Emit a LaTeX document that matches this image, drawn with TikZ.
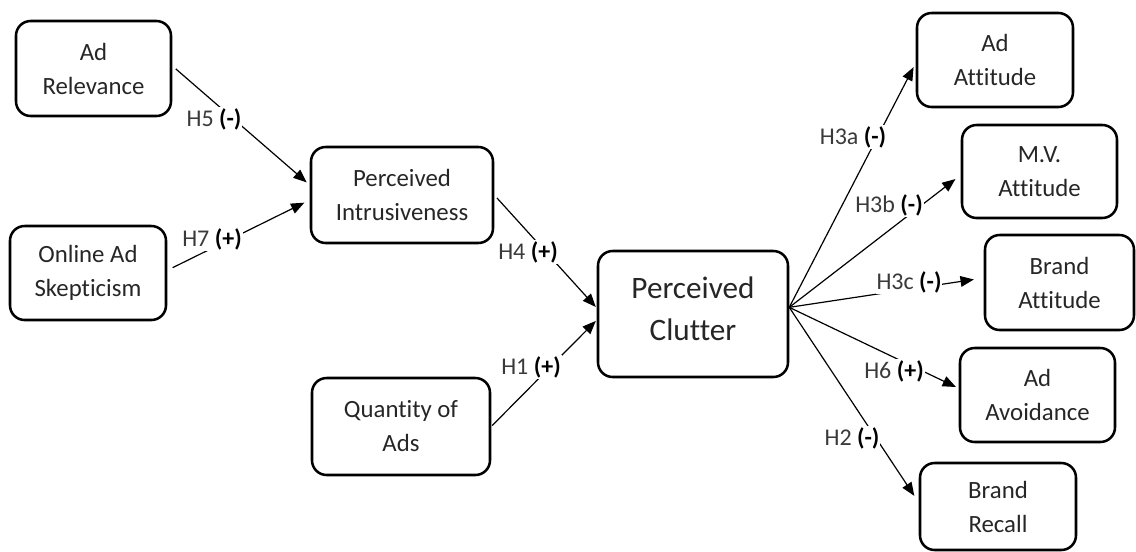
\documentclass[tikz,border=0pt]{standalone}
\usepackage{fontspec}
\setmainfont{Carlito}[Ligatures=NoCommon]
\usetikzlibrary{arrows.meta}
\definecolor{txt}{HTML}{262626}
\definecolor{lbl}{HTML}{3A3A3A}
\tikzset{
  box/.style={draw=black, line width=1.9pt, rounded corners=11pt, align=center,
    text=txt, font=\fontsize{18.6}{25.5}\selectfont, inner sep=0pt},
  bigbox/.style={draw=black, line width=1.9pt, rounded corners=11pt, inner sep=0pt},
  bigtext/.style={align=center, text=txt, font=\fontsize{23.4}{31.5}\selectfont, inner sep=0pt},
  arr/.style={draw=black, line width=0.9pt, -{Triangle[length=10pt,width=8pt]}},
  lab/.style={fill=white, inner sep=0.6pt, text=lbl, font=\fontsize{18}{21}\selectfont},
}
\begin{document}
\begin{tikzpicture}[x=0.75pt, y=-0.75pt]
\useasboundingbox (0,0) rectangle (1136,551);
% boxes (center, width, height in px)
\node[box, minimum width=155*0.75pt, minimum height=95*0.75pt] (adrel) at (93.5,68.5) {Ad\\Relevance};
\node[box, minimum width=156*0.75pt, minimum height=94*0.75pt] (skep) at (88,273) {Online Ad\\Skepticism};
\node[box, minimum width=182*0.75pt, minimum height=96*0.75pt] (intr) at (402,195) {Perceived\\Intrusiveness};
\node[box, minimum width=178*0.75pt, minimum height=97*0.75pt] (qty) at (401,426.5) {Quantity of\\Ads};
\node[bigbox, minimum width=190*0.75pt, minimum height=126*0.75pt] (clut) at (693,314) {};
\node[bigtext] (cluttext) at (693,309) {Perceived\\Clutter};
\node[box, minimum width=156*0.75pt, minimum height=94*0.75pt] (adatt) at (995,60) {Ad\\Attitude};
\node[box, minimum width=155*0.75pt, minimum height=93*0.75pt] (mvatt) at (1039.5,171.5) {M.V.\\Attitude};
\node[box, minimum width=149*0.75pt, minimum height=95*0.75pt] (bratt) at (1059.5,282.5) {Brand\\Attitude};
\node[box, minimum width=155*0.75pt, minimum height=94*0.75pt] (avoid) at (1037.5,395) {Ad\\Avoidance};
\node[box, minimum width=156*0.75pt, minimum height=87*0.75pt] (recall) at (998,506.5) {Brand\\Recall};
% connectors
\draw[arr, shorten <=3.5pt, shorten >=3pt] ([yshift=2pt]adrel.east) -- ([yshift=7.5pt]intr.west);
\draw[arr, shorten <=4.5pt, shorten >=4.5pt] ([yshift=2pt]skep.east) -- ([yshift=-3.75pt]intr.west);
\draw[arr, shorten <=3pt, shorten >=1pt] (intr.east) -- ([yshift=4.5pt]clut.west);
\draw[arr, shorten <=1pt, shorten >=1pt] (qty.east) -- ([yshift=-4.5pt]clut.west);
\coordinate (cs) at ([yshift=5pt]clut.east);
\draw[arr, shorten >=3.5pt] (cs) -- ([yshift=-2.25pt]adatt.west);
\draw[arr, shorten >=5pt] (cs) -- ([yshift=-2.6pt]mvatt.west);
\draw[arr, shorten >=7.5pt] (cs) -- ([yshift=3.4pt]bratt.west);
\draw[arr, shorten >=2.3pt] (cs) -- ([yshift=5pt]avoid.west);
\draw[arr, shorten >=6pt] (cs) -- ([yshift=3pt]recall.west);
% labels
\node[lab] (l5) at (214,119) {H5 \textbf{\color{black}(-)}};
\node[lab] (l7) at (212,239) {H7 \textbf{\color{black}(+)}};
\node[lab] (l4) at (528,252) {H4 \textbf{\color{black}(+)}};
\node[lab] (l1) at (531,367) {H1 \textbf{\color{black}(+)}};
\node[lab] (l3a) at (853,137) {H3a \textbf{\color{black}(-)}};
\node[lab] (l3b) at (889,205) {H3b \textbf{\color{black}(-)}};
\node[lab] (l3c) at (909,282) {H3c \textbf{\color{black}(-)}};
\node[lab] (l6) at (894,371) {H6 \textbf{\color{black}(+)}};
\node[lab] (l2) at (852,438) {H2 \textbf{\color{black}(-)}};
\end{tikzpicture}
\end{document}
